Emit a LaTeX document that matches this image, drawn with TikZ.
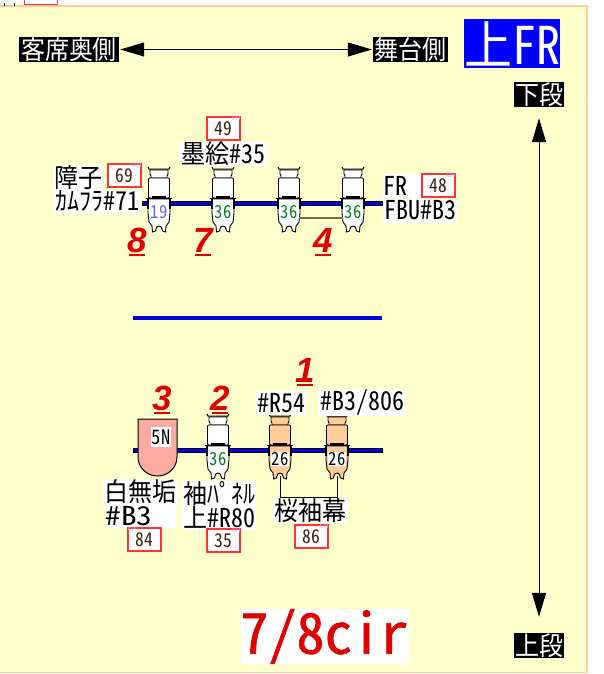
\documentclass[tikz,border=0pt]{standalone}
\usepackage{fontspec}
\usetikzlibrary{arrows.meta}
\newfontfamily\jpfont[RawFeature=+hwid,FakeStretch=.923]{Noto Sans CJK JP}
\newfontfamily\jpheavy[RawFeature=+hwid,FakeBold=1.2]{Noto Sans CJK JP}
\newfontfamily\cuefont{Liberation Sans}
\definecolor{panelfill}{HTML}{FFFFCC}
\definecolor{paneledge}{HTML}{FFCC99}
\definecolor{barblue}{HTML}{0000E0}
\definecolor{peach}{HTML}{FFCC99}
\definecolor{pinkfill}{HTML}{FFAAA0}
\definecolor{cuered}{HTML}{E00000}
\definecolor{chred}{HTML}{FF3333}
\definecolor{chbrown}{HTML}{402010}
\definecolor{chlav}{HTML}{C4A8F0}
\definecolor{numgreen}{HTML}{008020}
\definecolor{numblue}{HTML}{6666EE}
\definecolor{linkolive}{HTML}{707050}
\tikzset{
  pics/lamp/.style n args={3}{code={
    \draw[lampline,fill=#1] (-9,-33) -- (9,-33) -- (9,-29) -- (8,-27) -- (8,-25) -- (-8,-25) -- (-8,-27) -- (-9,-29) -- cycle;
    \draw[lampline,line width=1pt] (-11,-36) -- (-10,-34) -- (10,-34) -- (11,-36);
    \draw[lampline,fill=#1,rounded corners=1pt] (-10.5,-25) rectangle (10.5,-5);
    \draw[lampline,fill=#1] (-11,-4) -- (11,-4) -- (11,10) -- (10,19) -- (7,23) -- (6.5,29) -- (3.5,28)
      -- (3,26) arc[start angle=0,end angle=-180,radius=3] -- (-3.5,28) -- (-6.5,29) -- (-7,23) -- (-10,19) -- (-11,10) -- cycle;
    \draw[line width=1.5pt] (-11,-4) -- (-11,6) (11,-4) -- (11,6);
    \draw[lampline] (-13,-5) -- (13,-5);
    \draw[line width=2pt] (-7,-6) -- (7,-6);
    \node[lampnum,text=#3] (-num) at (0,9) {#2};
    \coordinate (-notch) at (0,26);
    \coordinate (-left) at (-10,15);
    \coordinate (-right) at (10,15);
  }}
}
\begin{document}
\begin{tikzpicture}[
    x=1pt,y=-1pt,
    >={Stealth[inset=0pt,length=24pt,width=14pt]},
    lampline/.style={draw=black,line width=.9pt},
    lampnum/.style={
      fill=white,
      inner sep=.5pt,
      font=\fontsize{18}{18}\selectfont\jpfont
    },
    blackbox/.style={
      fill=black,
      text=white,
      inner sep=0pt,
      minimum height=25pt,
      font=\fontsize{26}{26}\selectfont\jpfont
    },
    caption/.style={
      fill=white,
      inner sep=0pt,
      minimum height=24pt,
      font=\fontsize{26}{26}\selectfont\jpfont
    },
    chbox/.style={
      draw=chred,
      fill=white,
      text=chbrown,
      line width=1.1pt,
      inner sep=0pt,
      minimum width=33pt,
      minimum height=23pt,
      font=\fontsize{19}{19}\selectfont\jpfont
    },
    chtag/.style={
      text=chlav,
      inner sep=0pt,
      font=\fontsize{6}{6}\selectfont\sffamily
    },
    cue/.style={
      text=cuered,
      inner sep=0pt,
      anchor=south,
      font=\fontsize{35}{35}\selectfont\cuefont\bfseries\itshape
    },
    cueline/.style={draw=cuered,line width=1.3pt},
    baredge/.style={draw=black,line width=.6pt,fill=barblue}
  ]
    \useasboundingbox (0,0) rectangle (604,674);
    % panel
    \fill[white] (0,0) rectangle (604,674);
    \draw[draw=paneledge,fill=panelfill,line width=1.2pt] (-3,6) rectangle (587,672.5);
    % leftovers at the top edge
    \draw[line width=.7pt] (4,3) -- (4,6) (14,3) -- (14,6);
    \draw[chred,line width=.9pt,fill=white] (24,-10) rectangle (57,4);

    % headings
    \node[blackbox,minimum width=100pt] (seat) at (69,49.5) {客席奥側};
    \node[blackbox,minimum width=75pt] (stage) at (410.5,49.5) {舞台側};
    \node[fill=blue,text=white,inner sep=0pt,minimum width=96pt,minimum height=49pt,
      font=\fontsize{52}{52}\selectfont\jpfont] (title) at (512,43.5) {上FR};
    \node[blackbox,minimum width=50pt] (rear) at (539,94.5) {下段};
    \node[blackbox,minimum width=50pt] (front) at (539,645.5) {上段};
    \draw[<->,line width=1pt,shorten <=1pt,shorten >=1pt] (seat) -- (stage);
    \draw[<->,line width=1pt,shorten <=11pt,shorten >=16pt] (rear) -- (front);
    \node[fill=white,text=cuered,inner sep=0pt,minimum width=167pt,minimum height=53pt,
      font=\fontsize{56}{56}\selectfont\jpheavy] (circuit) at (324.5,636.5) {7/8cir};

    % bars
    \filldraw[baredge] (142,201) rectangle (382,205);
    \fill[barblue] (133,315.5) rectangle (382,319.5);
    \filldraw[baredge] (133,448) rectangle (382,452.5);

    % upper row
    \foreach \n/\x/\f/\t/\c in {1/159/white/19/numblue,2/223/white/36/numgreen,3/289/white/36/numgreen,4/353/white/36/numgreen}
      \pic (a\n) at (\x,203) {lamp={\f}{\t}{\c}};
    \draw[linkolive,line width=1.3pt] (a3-right) -- (a4-left);

    % lower row
    \draw[lampline,fill=pinkfill,line width=1pt] (177,457) -- (177,419) -- (138,419) -- (138,457)
      arc[start angle=180,end angle=0,x radius=19.5,y radius=19] -- cycle;
    \node[fill=white,inner sep=0pt,minimum width=20pt,minimum height=20pt,
      font=\fontsize{20}{20}\selectfont\jpfont] (five) at (161,437) {5N};
    \foreach \n/\x/\f/\t/\c in {1/218/white/36/numgreen,2/280/peach/26/black,3/337/peach/26/black}
      \pic (b\n) at (\x,450) {lamp={\f}{\t}{\c}};
    \draw[line width=.9pt] (b2-notch) -- ++(0,21) -| (b3-notch);

    % captions
    \node[caption,minimum width=49pt] (shoji) at (78.5,177.5) {障子};
    \node[caption,minimum width=87pt] (camera) at (97.5,201.5) {ｶﾑﾌﾗ\#71};
    \node[caption,minimum width=87pt] (sumie) at (223.5,154) {墨絵\#35};
    \node[caption,text width=39pt] (fr) at (402.5,186) {FR};
    \node[caption,minimum width=74pt] (fbu) at (420,210.5) {FBU\#B3};
    \node[caption,minimum width=75pt,minimum height=26pt] (white) at (140.5,491.5) {白無垢};
    \node[caption,text width=70pt] (whitegel) at (140.5,516) {\scalebox{1.3}[1]{\#B3}};
    \node[caption,minimum width=74pt,minimum height=25pt] (panel) at (219,493.5) {袖ﾊﾟﾈﾙ};
    \node[caption,minimum width=74pt] (panelgel) at (219,517.5) {上\#R80};
    \node[caption,minimum width=50pt] (gelr) at (281,403) {\#R54};
    \node[caption,minimum width=88pt] (gelb) at (362,403) {\#B3/806};
    \node[caption,minimum width=75pt] (sakura) at (310.5,511) {桜袖幕};

    % channel boxes
    \node[chbox,label={[chtag,anchor=north east]north east:CH}] (ch69) at (124.5,175.5) {69};
    \node[chbox,label={[chtag,anchor=north east]north east:CH}] (ch49) at (223.5,128.5) {49};
    \node[chbox,label={[chtag,anchor=north east]north east:CH}] (ch48) at (438.5,185.5) {48};
    \node[chbox,label={[chtag,anchor=north west]north west:CH}] (ch84) at (144.5,539.5) {84};
    \node[chbox,label={[chtag,anchor=north east]north east:CH}] (ch35) at (223.5,540.5) {35};
    \node[chbox,label={[chtag,anchor=north east]north east:CH}] (ch86) at (311.5,536.5) {86};

    % cue numbers
    \foreach \n/\x/\y in {8/137/253,7/203/253,4/323/253,3/162/411,2/220/411,1/305/383} {
      \node[cue] (cue\n) at (\x,\y) {\n};
      \draw[cueline] ([xshift=-8pt,yshift=-2pt]cue\n.south) -- ([xshift=8pt,yshift=-2pt]cue\n.south);
    }
\end{tikzpicture}
\end{document}
